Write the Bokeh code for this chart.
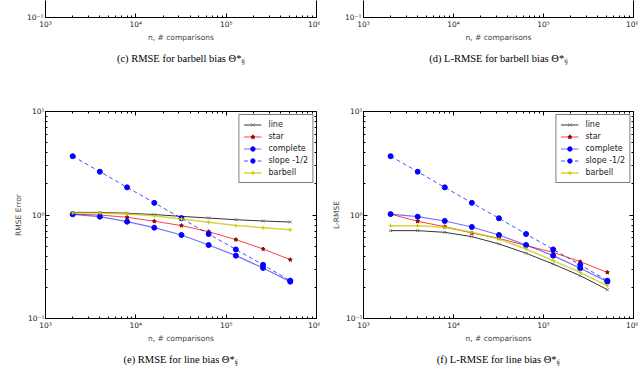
from bokeh.plotting import figure
from bokeh.models import Range1d, FixedTicker, LogAxis, Legend, LegendItem, Title
from bokeh.layouts import column, row
from bokeh.embed import file_html
from bokeh.resources import INLINE

# ---- data ----
n_comparisons = [2000, 4000, 8000, 16000, 32000, 64000, 128000, 256000, 512000]

# (e) RMSE for line bias
e_line = [1.06, 1.06, 1.04, 1.01, 0.97, 0.935, 0.90, 0.875, 0.855]
e_star = [1.02, 1.00, 0.95, 0.87, 0.79, 0.69, 0.578, 0.47, 0.37]
e_complete = [1.015, 0.964, 0.862, 0.755, 0.641, 0.513, 0.405, 0.308, 0.227]
e_slope = [3.70, 2.62, 1.85, 1.31, 0.93, 0.655, 0.465, 0.33, 0.232]
e_barbell = [1.045, 1.045, 1.02, 0.985, 0.915, 0.85, 0.79, 0.755, 0.72]

# (f) L-RMSE for line bias
f_line = [0.706, 0.706, 0.68, 0.618, 0.525, 0.427, 0.336, 0.259, 0.19]
f_star = [1.02, 0.869, 0.771, 0.67, 0.595, 0.506, 0.436, 0.354, 0.279]
f_complete = [1.02, 0.963, 0.875, 0.766, 0.641, 0.513, 0.405, 0.306, 0.227]
f_slope = [3.70, 2.62, 1.85, 1.31, 0.93, 0.655, 0.465, 0.33, 0.232]
f_barbell = [0.789, 0.789, 0.76, 0.68, 0.586, 0.47, 0.362, 0.279, 0.207]

series_names = ["line", "star", "complete", "slope -1/2", "barbell"]

x_major = [1e3, 1e4, 1e5, 1e6]
x_minor = [2e3, 3e3, 4e3, 5e3, 6e3, 7e3, 8e3, 9e3,
           2e4, 3e4, 4e4, 5e4, 6e4, 7e4, 8e4, 9e4,
           2e5, 3e5, 4e5, 5e5, 6e5, 7e5, 8e5, 9e5]
x_labels = {1e3: "10³", 1e4: "10⁴", 1e5: "10⁵", 1e6: "10⁶"}
y_major = [0.1, 1.0, 10.0]
y_minor = [0.2, 0.3, 0.4, 0.5, 0.6, 0.7, 0.8, 0.9, 2, 3, 4, 5, 6, 7, 8, 9]
y_labels = {0.1: "10⁻¹", 1.0: "10⁰", 10.0: "10¹"}
strip_y_major = [0.1]

x_title = "n, # comparisons"
captions = {
    "c": "(c) RMSE for barbell bias Θ*ᵢⱼ",
    "d": "(d) L-RMSE for barbell bias Θ*ᵢⱼ",
    "e": "(e) RMSE for line bias Θ*ᵢⱼ",
    "f": "(f) L-RMSE for line bias Θ*ᵢⱼ",
}

TICK_FONT = "DejaVu Sans"
CAP_FONT = "Liberation Serif"


def style_axis(ax, ticks, minor, labels, show_labels=True):
    ax.ticker = FixedTicker(ticks=ticks, minor_ticks=minor)
    ax.major_tick_in = 4
    ax.major_tick_out = 0
    ax.minor_tick_in = 2
    ax.minor_tick_out = 0
    ax.axis_line_color = "black"
    ax.major_tick_line_color = "black"
    ax.minor_tick_line_color = "black"
    if show_labels:
        ax.major_label_overrides = labels
        ax.major_label_text_font = TICK_FONT
        ax.major_label_text_font_size = "7.5px"
        ax.major_label_text_color = "#222222"
        ax.major_label_standoff = 2
    else:
        ax.major_label_text_font_size = "1px"
        ax.major_label_text_alpha = 0
        ax.major_label_standoff = 0


def make_fig(width, height, y_end, bl, br, bt, bb, ylabel, caption, cap_offset, strip):
    p = figure(width=width, height=height, x_axis_type="log", y_axis_type="log",
               x_range=Range1d(1e3, 1e6), y_range=Range1d(0.1, y_end),
               output_backend="svg", toolbar_location=None,
               min_border_left=bl, min_border_right=br,
               min_border_top=bt, min_border_bottom=bb)
    p.title.text = ""
    p.grid.visible = False
    p.background_fill_color = "white"
    p.border_fill_color = "white"
    xa = p.xaxis[0]
    ya = p.yaxis[0]
    style_axis(xa, x_major, x_minor, x_labels)
    style_axis(ya, strip_y_major if strip else y_major, [] if strip else y_minor, y_labels)
    xa.axis_label = x_title
    xa.axis_label_text_font = TICK_FONT
    xa.axis_label_text_font_size = "7.5px"
    xa.axis_label_text_font_style = "normal"
    xa.axis_label_standoff = 1
    if ylabel:
        ya.axis_label = ylabel
        ya.axis_label_text_font = TICK_FONT
        ya.axis_label_text_font_size = "7.5px"
        ya.axis_label_text_font_style = "normal"
        ya.axis_label_standoff = 2
        ya.major_label_standoff = 1
    right = LogAxis()
    style_axis(right, strip_y_major if strip else y_major, [] if strip else y_minor,
               y_labels, show_labels=False)
    p.add_layout(right, "right")
    if strip:
        p.outline_line_color = None
    else:
        p.outline_line_color = "black"
        top = LogAxis()
        style_axis(top, x_major, x_minor, x_labels, show_labels=False)
        p.add_layout(top, "above")
    t = Title(text=caption, align="center", offset=cap_offset,
              text_font=CAP_FONT, text_font_size="10.5px",
              text_font_style="normal", text_color="black", standoff=13)
    p.add_layout(t, "below")
    return p


def add_series(p, line_v, star_v, comp_v, slope_v, barb_v):
    x = n_comparisons
    r1 = p.line(x, line_v, line_color="black", line_alpha=0.8, line_width=1)
    m1 = p.scatter(x, line_v, marker="x", size=4, line_color="#777777", line_width=1)
    r2 = p.line(x, star_v, line_color="#ff0000", line_alpha=0.75, line_width=1)
    m2 = p.scatter(x, star_v, marker="star", size=4, fill_color="#8b0000",
                   line_color="#8b0000")
    r3 = p.line(x, comp_v, line_color="#0000ff", line_alpha=0.55, line_width=1.2)
    m3 = p.scatter(x, comp_v, marker="circle", size=5, fill_color="#0000ff",
                   line_color="#0000ff")
    r4 = p.line(x, slope_v, line_color="#0000ff", line_alpha=0.7, line_width=1,
                line_dash="4 3")
    m4 = p.scatter(x, slope_v, marker="circle", size=5, fill_color="#0000ff",
                   line_color="#0000ff")
    r5 = p.line(x, barb_v, line_color="#c8c800", line_alpha=0.75, line_width=1.5)
    m5 = p.scatter(x, barb_v, marker="cross", size=4, line_color="#c8c800")
    items = [LegendItem(label=series_names[0], renderers=[r1, m1]),
             LegendItem(label=series_names[1], renderers=[r2, m2]),
             LegendItem(label=series_names[2], renderers=[r3, m3]),
             LegendItem(label=series_names[3], renderers=[r4, m4]),
             LegendItem(label=series_names[4], renderers=[r5, m5])]
    lg = Legend(items=items, location="top_right", margin=3,
                border_line_color="black", border_line_width=1,
                background_fill_color="white", background_fill_alpha=1,
                label_text_font=TICK_FONT, label_text_font_size="8px",
                label_text_color="#222222",
                padding=4, spacing=1, label_height=11, glyph_height=11,
                glyph_width=18, label_standoff=7)
    p.add_layout(lg)


fig_c = make_fig(320, 88, 0.146, 45, 4, 0, 71, None, captions["c"], 0, True)
fig_d = make_fig(318, 88, 0.146, 43, 5, 0, 71, None, captions["d"], 0, True)
fig_e = make_fig(320, 290, 10.0, 45, 4, 23, 60, "RMSE Error", captions["e"], 0, False)
fig_f = make_fig(318, 290, 10.0, 43, 5, 23, 60, "L-RMSE", captions["f"], 0, False)

add_series(fig_e, e_line, e_star, e_complete, e_slope, e_barbell)
add_series(fig_f, f_line, f_star, f_complete, f_slope, f_barbell)

layout = column(row(fig_c, fig_d), row(fig_e, fig_f))

open("out.html", "w").write(file_html(layout, INLINE))
